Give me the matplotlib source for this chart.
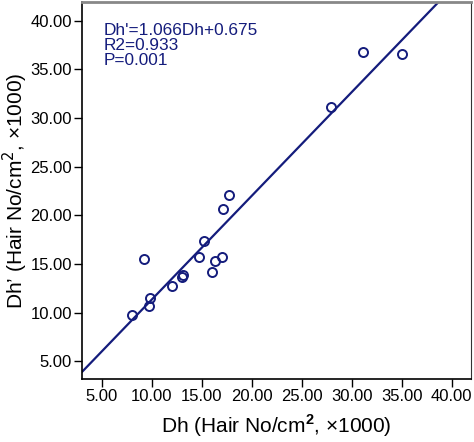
import matplotlib
matplotlib.use('Agg')
import numpy as np
import matplotlib.pyplot as plt

# data
dh = [8.0, 9.27, 9.77, 9.87, 12.0, 13.0, 13.1, 14.73, 15.2, 16.0, 16.33, 17.0, 17.17, 17.7, 27.97, 31.17, 35.0]
dh_prime = [9.75, 15.51, 10.68, 11.47, 12.7, 13.63, 13.86, 15.75, 17.33, 14.14, 15.33, 15.71, 20.68, 22.06, 31.1, 36.75, 36.61]
slope = 1.066
intercept = 0.675
ticks = [5, 10, 15, 20, 25, 30, 35, 40]
fit_text = "Dh'=1.066Dh+0.675\nR2=0.933\nP=0.001"

navy = '#141c7c'
plt.rcParams['font.family'] = ['Liberation Sans', 'DejaVu Sans']
plt.rcParams['mathtext.fontset'] = 'custom'
plt.rcParams['mathtext.bf'] = 'Liberation Sans:bold'

fig = plt.figure(figsize=(4.74, 4.42), dpi=100)
ax = fig.add_axes([0.174, 0.1425, 0.819, 0.853])

lim = (3.08, 41.9)
ax.set_xlim(lim)
ax.set_ylim(3.18, 41.92)

xs = np.array(lim)
ax.plot(xs, slope * xs + intercept, color=navy, lw=1.6, zorder=2)
ax.plot(dh, dh_prime, 'o', mfc='none', mec=navy, mew=1.4, ms=6.5, zorder=3)

ax.set_xticks(ticks)
ax.set_yticks(ticks)
ax.set_xticklabels([f'{t:.2f}' for t in ticks])
ax.set_yticklabels([f'{t:.2f}' for t in ticks])
ax.tick_params(axis='both', direction='out', length=6, width=1, labelsize=12, pad=1.5)

for side in ['left', 'bottom']:
    ax.spines[side].set_linewidth(1.2)
    ax.spines[side].set_color('black')
ax.spines['top'].set_color('#888888')
ax.spines['top'].set_linewidth(2)
ax.spines['right'].set_color('#333333')
ax.spines['right'].set_linewidth(0.8)

ax.set_xlabel('Dh (Hair No/cm$^\\mathbf{2}$, ×1000)', fontsize=15, labelpad=6)
ax.set_ylabel('Dh’ (Hair No/cm$^2$, ×1000)', fontsize=15, labelpad=0.5)

ax.text(0.055, 0.943, fit_text, transform=ax.transAxes, color=navy,
        fontsize=12.4, va='top', ha='left', linespacing=0.98)

fig.savefig('out.png', dpi=100)
